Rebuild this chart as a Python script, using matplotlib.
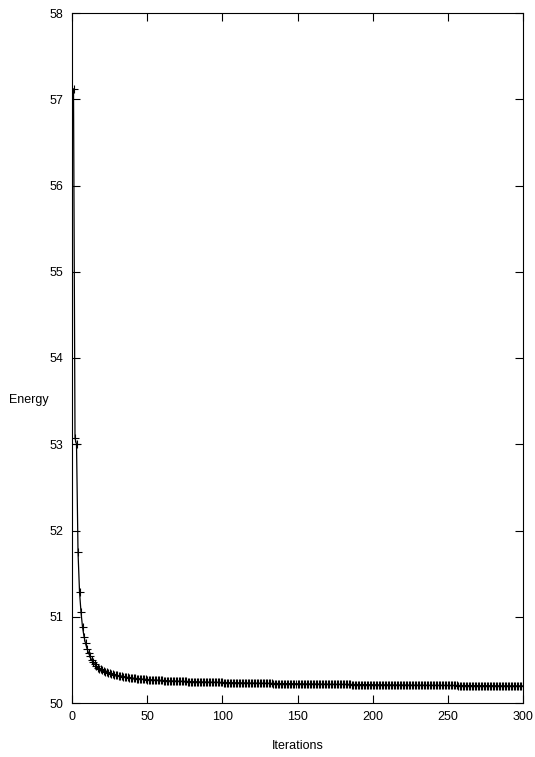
import matplotlib
matplotlib.use("Agg")
import matplotlib.pyplot as plt

iterations = list(range(1, 301))

energy_head = [57.12, 53.07, 53.00, 51.75, 51.29, 51.05, 50.88, 50.77, 50.69, 50.63,
               50.58, 50.54, 50.50, 50.47, 50.45, 50.43, 50.41, 50.40, 50.39, 50.38,
               50.37]
energy_tail = [
    50.362, 50.355, 50.349, 50.343, 50.338, 50.333, 50.328, 50.323, 50.319, 50.315,
    50.311, 50.308, 50.305, 50.302, 50.299, 50.296, 50.294, 50.291, 50.289, 50.287,
    50.285, 50.283, 50.281, 50.279, 50.278, 50.276, 50.275, 50.273, 50.272, 50.271,
    50.270, 50.268, 50.267, 50.266, 50.265, 50.264, 50.263, 50.262, 50.261, 50.260,
    50.259, 50.258, 50.258, 50.257, 50.256, 50.255, 50.255, 50.254, 50.253, 50.253,
    50.252, 50.251, 50.251, 50.250, 50.250, 50.249, 50.248, 50.248, 50.247, 50.247,
    50.246, 50.246, 50.245, 50.245, 50.244, 50.244, 50.243, 50.243, 50.242, 50.242,
    50.241, 50.241, 50.240, 50.240, 50.240, 50.239, 50.239, 50.238, 50.238, 50.237,
    50.237, 50.237, 50.236, 50.236, 50.235, 50.235, 50.235, 50.234, 50.234, 50.234,
    50.233, 50.233, 50.233, 50.232, 50.232, 50.232, 50.231, 50.231, 50.231, 50.230,
    50.230, 50.230, 50.229, 50.229, 50.229, 50.228, 50.228, 50.228, 50.228, 50.227,
    50.227, 50.227, 50.226, 50.226, 50.226, 50.226, 50.225, 50.225, 50.225, 50.225,
    50.224, 50.224, 50.224, 50.224, 50.223, 50.223, 50.223, 50.223, 50.222, 50.222,
    50.222, 50.222, 50.221, 50.221, 50.221, 50.221, 50.220, 50.220, 50.220, 50.220,
    50.219, 50.219, 50.219, 50.219, 50.219, 50.218, 50.218, 50.218, 50.218, 50.217,
    50.217, 50.217, 50.217, 50.217, 50.216, 50.216, 50.216, 50.216, 50.216, 50.215,
    50.215, 50.215, 50.215, 50.215, 50.214, 50.214, 50.214, 50.214, 50.214, 50.213,
    50.213, 50.213, 50.213, 50.213, 50.212, 50.212, 50.212, 50.212, 50.212, 50.211,
    50.211, 50.211, 50.211, 50.211, 50.210, 50.210, 50.210, 50.210, 50.210, 50.210,
    50.209, 50.209, 50.209, 50.209, 50.209, 50.209, 50.208, 50.208, 50.208, 50.208,
    50.208, 50.208, 50.207, 50.207, 50.207, 50.207, 50.207, 50.207, 50.206, 50.206,
    50.206, 50.206, 50.206, 50.206, 50.205, 50.205, 50.205, 50.205, 50.205, 50.205,
    50.205, 50.204, 50.204, 50.204, 50.204, 50.204, 50.204, 50.204, 50.203, 50.203,
    50.203, 50.203, 50.203, 50.203, 50.203, 50.202, 50.202, 50.202, 50.202, 50.202,
    50.202, 50.202, 50.202, 50.201, 50.201, 50.201, 50.201, 50.201, 50.201, 50.201,
    50.201, 50.200, 50.200, 50.200, 50.200, 50.200, 50.200, 50.200, 50.200, 50.199,
    50.199, 50.199, 50.199, 50.199, 50.199, 50.199, 50.199, 50.199, 50.198, 50.198,
    50.198, 50.198, 50.198, 50.198, 50.198, 50.198, 50.198, 50.198, 50.197,
]
energy = energy_head + energy_tail

x_ticks = [0, 50, 100, 150, 200, 250, 300]
y_ticks = [50, 51, 52, 53, 54, 55, 56, 57, 58]

plt.rcParams['font.family'] = ['Liberation Sans', 'DejaVu Sans']

fig = plt.figure(figsize=(5.35, 7.57), dpi=100)
ax = fig.add_axes([72/535, 54/757, 451/535, 690/757])

ax.plot(iterations, energy, color='black', linewidth=0.9,
        marker='+', markersize=5.5, markeredgewidth=0.8)

ax.set_xlim(0, 300)
ax.set_ylim(50, 58)
ax.set_xticks(x_ticks)
ax.set_yticks(y_ticks)
ax.tick_params(direction='in', length=6, width=0.8, top=True, right=True,
               labelsize=9, pad=6)
for s in ax.spines.values():
    s.set_linewidth(0.8)

ax.set_xlabel('Iterations', fontsize=9, labelpad=12)
ax.set_ylabel('Energy', fontsize=9, rotation=0, labelpad=0)
ax.yaxis.set_label_coords(-0.095, 0.43)

fig.savefig('out.png', dpi=100)
